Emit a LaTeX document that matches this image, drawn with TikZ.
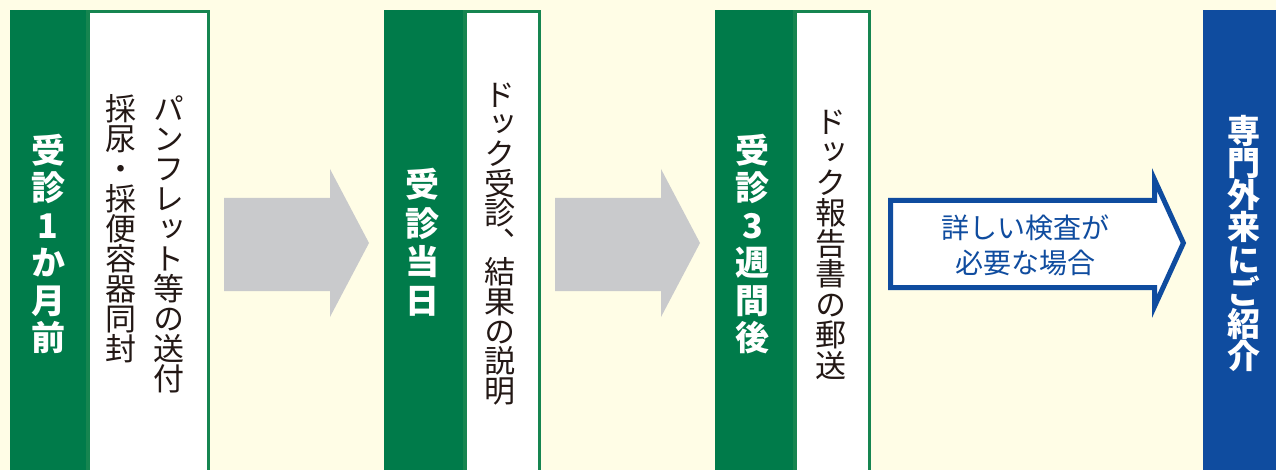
\documentclass[tikz,border=0pt]{standalone}
\usepackage{fontspec}
\newfontfamily\jp{Noto Sans CJK JP}
\newfontfamily\jpv{Noto Sans CJK JP}[RawFeature=+vert]
\definecolor{bgc}{HTML}{FFFDE6}
\definecolor{grn}{HTML}{007B4A}
\definecolor{grnb}{HTML}{168550}
\definecolor{gry}{HTML}{C9CACC}
\definecolor{blu}{HTML}{0F4C9F}
\definecolor{ink}{HTML}{231815}
\makeatletter
\newcommand\vstack[2]{%
  \vbox{\offinterlineskip\@tfor\vs@c:=#2\do{%
    \hbox to 1.3em{\hss\vrule width 0pt height \dimexpr#1/2\relax depth \dimexpr#1/2\relax\raisebox{-.38em}{\vs@c}\hss}}}}
\makeatother
\tikzset{
  barfill/.style={fill=grn},
  wbox/.style={draw=grnb, line width=3.5pt, fill=white},
  bartext/.style={inner sep=0pt, text=white, font=\jpv\bfseries\fontsize{34}{34}\selectfont},
  coltext/.style={inner sep=0pt, text=ink, font=\jpv\fontsize{31}{31}\selectfont},
  grayarrow/.style={fill=gry},
  bluearrow/.style={draw=blu, line width=5pt, fill=white, line join=miter},
}
\begin{document}
\begin{tikzpicture}[x=1pt,y=-1pt]
\useasboundingbox (0,0) rectangle (1276,470);
\fill[bgc] (0,0) rectangle (1276,470);
% group 1
\fill[barfill] (10,10) rectangle (86,471);
\draw[wbox] (87.75,11.75) rectangle (208.25,476);
\node[bartext] (b1) at (48,244) {\vstack{37.5pt}{受診1か月前}};
\node[coltext] (c1a) at (169,243.5) {\vstack{30pt}{パンフレット等の送付}};
\node[coltext] (c1b) at (121,228.5) {\vstack{30pt}{採尿・採便容器同封}};
% arrow 1
\fill[grayarrow] (224,198) -- (330,198) -- (330,169) -- (369,243) -- (330,317) -- (330,291) -- (224,291) -- cycle;
% group 2
\fill[barfill] (384,10) rectangle (463,471);
\draw[wbox] (464.75,11.75) rectangle (539.25,476);
\node[bartext] (b2) at (422,242.5) {\vstack{38.5pt}{受診当日}};
\node[coltext] (c2) at (500,242.5) {\vstack{29.6pt}{ドック受診、結果の説明}};
% arrow 2
\fill[grayarrow] (555,198) -- (661,198) -- (661,169) -- (700,243) -- (661,317) -- (661,291) -- (555,291) -- cycle;
% group 3
\fill[barfill] (715,10) rectangle (793,471);
\draw[wbox] (794.75,11.75) rectangle (869.25,476);
\node[bartext] (b3) at (752.5,244) {\vstack{37.5pt}{受診3週間後}};
\node[coltext] (c3) at (831,243.5) {\vstack{30.5pt}{ドック報告書の郵送}};
% blue arrow
\draw[bluearrow] (890.5,200.5) -- (1154.5,200.5) -- (1154.5,179.6) -- (1183.4,243) -- (1154.5,306.4) -- (1154.5,287.5) -- (890.5,287.5) -- cycle;
\node[inner sep=0pt, text=blu, align=center, font=\jp\fontsize{28}{35}\selectfont] (ba) at (1025,245) {詳しい検査が\\必要な場合};
% group 4
\fill[blu] (1203,10) rectangle (1277,471);
\node[bartext, font=\jpv\bfseries\fontsize{33}{33}\selectfont] (b4) at (1244,243.5) {\vstack{32.2pt}{専門外来にご紹介}};
\end{tikzpicture}
\end{document}
